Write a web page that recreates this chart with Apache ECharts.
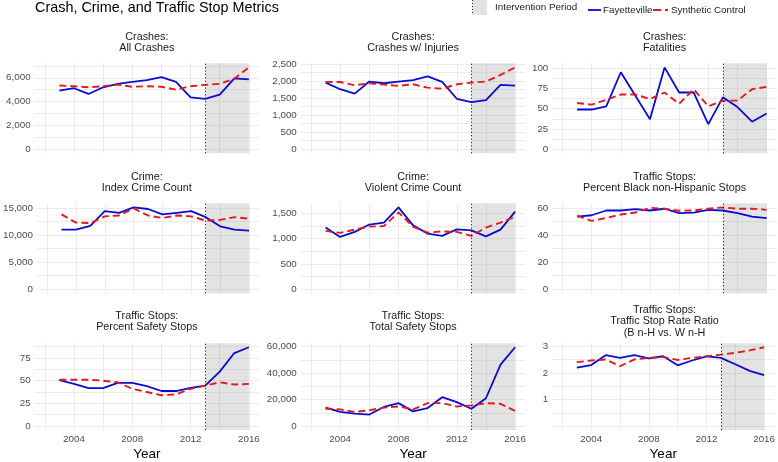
<!DOCTYPE html>
<html><head><meta charset="utf-8">
<script src="https://cdn.jsdelivr.net/npm/echarts@6/dist/echarts.min.js"></script>
<style>html,body{margin:0;padding:0;background:#fff}#chart{width:778px;height:462px}</style>
</head><body><div id="chart"></div>
<script>
// ---------- DATA ----------
const years = [2003,2004,2005,2006,2007,2008,2009,2010,2011,2012,2013,2014,2015,2016];
const interventionStart = 2013;
const interventionEnd = 2016;

const allCrashesFay = [4920,5120,4640,5200,5490,5660,5800,6050,5660,4360,4220,4580,5940,5860];
const allCrashesSyn = [5350,5290,5200,5290,5430,5240,5290,5240,5000,5290,5400,5490,5920,6870];
const injuryFay = [1955,1760,1630,1985,1935,1985,2025,2135,1975,1480,1380,1440,1885,1865];
const injurySyn = [1975,1970,1875,1935,1895,1855,1905,1805,1775,1905,1955,1985,2180,2400];
const fatalFay = [49,49,53,95,66,37,101,70,70,31,64,52,34,44];
const fatalSyn = [57,55,61,67.5,67.5,62,70,56,74,53,60,60,74,77];
const indexCrimeFay = [10980,10980,11700,14400,14100,15100,14800,13800,14100,14400,13300,11600,11000,10800];
const indexCrimeSyn = [13800,12300,12200,13450,13600,14900,13600,13150,13600,13450,12650,12800,13300,13000];
const violentFay = [1220,1035,1135,1280,1320,1620,1265,1100,1055,1185,1165,1045,1180,1535];
const violentSyn = [1155,1115,1180,1240,1250,1520,1235,1120,1145,1135,1055,1220,1320,1435];
const pctBlackFay = [53.7,54.7,58.2,58.2,59.2,58.2,59.5,56.2,56.7,58.7,58.2,56.2,53.7,52.5];
const pctBlackSyn = [54.4,50.5,52.7,55.2,56.7,60.2,59.5,58,58.2,59.5,60.5,59.5,59.5,58.7];
const pctSafetyFay = [50.7,46.4,41.8,41.8,47.5,47.5,43.9,38.6,38.6,42.1,44.6,60,80.4,86.8];
const pctSafetySyn = [51,51,51,50,48.2,41,37.5,33.9,34.9,41,44.6,48.2,45.7,46.4];
const totalSafetyFay = [13900,10700,9400,8700,14400,17300,11100,13600,21800,18100,13100,21000,46400,59500];
const totalSafetySyn = [13100,12600,10700,11900,13900,14800,12600,17300,17300,14800,15600,17300,16800,11400];
const ratioFay = [2.2,2.3,2.67,2.57,2.67,2.55,2.63,2.29,2.47,2.63,2.57,2.33,2.08,1.92];
const ratioSyn = [2.41,2.47,2.51,2.26,2.51,2.57,2.6,2.49,2.57,2.63,2.69,2.76,2.85,2.97];

const panelTitles = [
  'Crashes:\nAll Crashes', 'Crashes:\nCrashes w/ Injuries', 'Crashes:\nFatalities',
  'Crime:\nIndex Crime Count', 'Crime:\nViolent Crime Count', 'Traffic Stops:\nPercent Black non-Hispanic Stops',
  'Traffic Stops:\nPercent Safety Stops', 'Traffic Stops:\nTotal Safety Stops', 'Traffic Stops:\nTraffic Stop Rate Ratio\n(B n-H vs. W n-H'
];
const yTickSets = [
  [0,2000,4000,6000], [0,500,1000,1500,2000,2500], [0,25,50,75,100],
  [0,5000,10000,15000], [0,500,1000,1500], [0,20,40,60],
  [0,25,50,75], [0,20000,40000,60000], [0,1,2,3]
];
const yLabelSets = [
  [0,2000,4000,6000], [0,500,1000,1500,2000,2500], [0,25,50,75,100],
  [0,5000,10000,15000], [0,500,1000,1500], [0,20,40,60],
  [0,25,50,75], [0,20000,40000,60000], [1,2,3]
];
const xMajorTicks = [2004,2008,2012,2016];
const seriesNames = ['Fayetteville', 'Synthetic Control'];
const legendIntervention = 'Intervention Period';
const chartTitle = 'Crash, Crime, and Traffic Stop Metrics';
const xAxisTitle = 'Year';

const fayData = [allCrashesFay, injuryFay, fatalFay, indexCrimeFay, violentFay, pctBlackFay, pctSafetyFay, totalSafetyFay, ratioFay];
const synData = [allCrashesSyn, injurySyn, fatalSyn, indexCrimeSyn, violentSyn, pctBlackSyn, pctSafetySyn, totalSafetySyn, ratioSyn];

// ---------- LAYOUT / STYLE ----------
const FONT = "'Liberation Sans', Arial, Helvetica, sans-serif";
const BLUE = '#0b0bcf';
const RED = '#e3191c';
const colLeft = [34.6, 300.8, 552.3];
const rowTop = [63.3, 203.3, 343.3];
const panelW = 224.5, panelH = 90;
const stripCenter = [42.5, 182.5, 321.5];
const xMin = 2001.3, xMax = 2016.7;

const grids = [], xAxes = [], yAxes = [], series = [], graphics = [];

function fmt(v) { return v.toLocaleString('en-US'); }

for (let i = 0; i < 9; i++) {
  const r = Math.floor(i / 3), c = i % 3;
  grids.push({left: colLeft[c], top: rowTop[r], width: panelW, height: panelH});
  const hi = Math.max(...fayData[i], ...synData[i]);
  const lo = 0;
  const yMin = lo - 0.05 * (hi - lo), yMax = hi + 0.05 * (hi - lo);
  const majors = yTickSets[i];
  const step = majors[1] - majors[0];
  const gridVals = [];
  for (let k = -1; k <= majors.length; k++) {
    const m = majors[0] + k * step;
    [m, m + step / 2].forEach(v => { if (v >= yMin && v <= yMax) gridVals.push(v); });
  }
  const xGrid = [];
  for (let yv = 2002; yv <= 2016; yv += 2) xGrid.push(yv);
  const bottom = r === 2;
  xAxes.push({
    type: 'value', gridIndex: i, min: xMin, max: xMax,
    axisLine: {show: false},
    axisTick: {show: false, customValues: xGrid},
    splitLine: {show: true, lineStyle: {color: '#ebebeb', width: 1}},
    axisLabel: {show: bottom, customValues: xMajorTicks, color: '#4d4d4d', fontSize: 9.8, fontFamily: FONT, margin: 4, formatter: v => String(v)},
    name: bottom ? xAxisTitle : '', nameLocation: 'middle', nameGap: 17,
    nameTextStyle: {fontSize: 13.5, color: '#000', fontFamily: FONT}
  });
  yAxes.push({
    type: 'value', gridIndex: i, min: yMin, max: yMax,
    axisLine: {show: false},
    axisTick: {show: false, customValues: gridVals},
    splitLine: {show: true, lineStyle: {color: '#ebebeb', width: 1}},
    axisLabel: {customValues: yLabelSets[i], color: '#4d4d4d', fontSize: 9.8, fontFamily: FONT, margin: 4, formatter: v => fmt(v)}
  });
  series.push({
    name: seriesNames[0], type: 'line', xAxisIndex: i, yAxisIndex: i,
    data: years.map((y, k) => [y, fayData[i][k]]),
    symbol: 'none', showSymbol: false, z: 3,
    lineStyle: {color: BLUE, width: 1.8}, itemStyle: {color: BLUE},
    markArea: {silent: true, itemStyle: {color: 'rgba(140,140,140,0.24)'},
      data: [[{xAxis: interventionStart}, {xAxis: interventionEnd}]]},
    markLine: {silent: true, symbol: ['none', 'none'], label: {show: false},
      lineStyle: {color: '#222', type: [1.2, 2.2], width: 1},
      data: [{xAxis: interventionStart}], animation: false}
  });
  series.push({
    name: seriesNames[1], type: 'line', xAxisIndex: i, yAxisIndex: i,
    data: years.map((y, k) => [y, synData[i][k]]),
    symbol: 'none', showSymbol: false, z: 4,
    lineStyle: {color: RED, width: 1.9, type: [7, 4]}, itemStyle: {color: RED}
  });
  graphics.push({
    type: 'text', x: colLeft[c] + panelW / 2, y: stripCenter[r],
    style: {text: panelTitles[i], fill: '#1a1a1a', fontSize: 10.8, fontFamily: FONT,
      align: 'center', textAlign: 'center', verticalAlign: 'middle', textVerticalAlign: 'middle', lineHeight: 11.7}
  });
}

// legend (drawn as graphic elements)
graphics.push(
  {type: 'rect', shape: {x: 472, y: 0, width: 15, height: 15}, style: {fill: '#e3e3e3'}},
  {type: 'line', shape: {x1: 472.5, y1: 0, x2: 472.5, y2: 15}, style: {stroke: '#333', lineWidth: 1, lineDash: [1, 2]}},
  {type: 'text', x: 495, y: 7.5, style: {text: legendIntervention, fill: '#222', fontSize: 9.8, fontFamily: FONT, verticalAlign: 'middle', textVerticalAlign: 'middle'}},
  {type: 'line', shape: {x1: 588, y1: 10, x2: 601, y2: 10}, style: {stroke: BLUE, lineWidth: 1.8}},
  {type: 'text', x: 603, y: 10, style: {text: seriesNames[0], fill: '#222', fontSize: 9.8, fontFamily: FONT, verticalAlign: 'middle', textVerticalAlign: 'middle'}},
  {type: 'line', shape: {x1: 653, y1: 10, x2: 668, y2: 10}, style: {stroke: RED, lineWidth: 1.9, lineDash: [8, 4]}},
  {type: 'text', x: 671, y: 10, style: {text: seriesNames[1], fill: '#222', fontSize: 9.8, fontFamily: FONT, verticalAlign: 'middle', textVerticalAlign: 'middle'}}
);

const chart = echarts.init(document.getElementById('chart'), null, {renderer: 'canvas'});
chart.setOption({
  animation: false,
  backgroundColor: '#fff',
  title: {text: chartTitle, left: 35, top: 1, padding: 0,
    textStyle: {fontSize: 14.4, fontWeight: 'normal', color: '#000', fontFamily: FONT}},
  grid: grids, xAxis: xAxes, yAxis: yAxes, series: series, graphic: graphics
});
</script></body></html>
